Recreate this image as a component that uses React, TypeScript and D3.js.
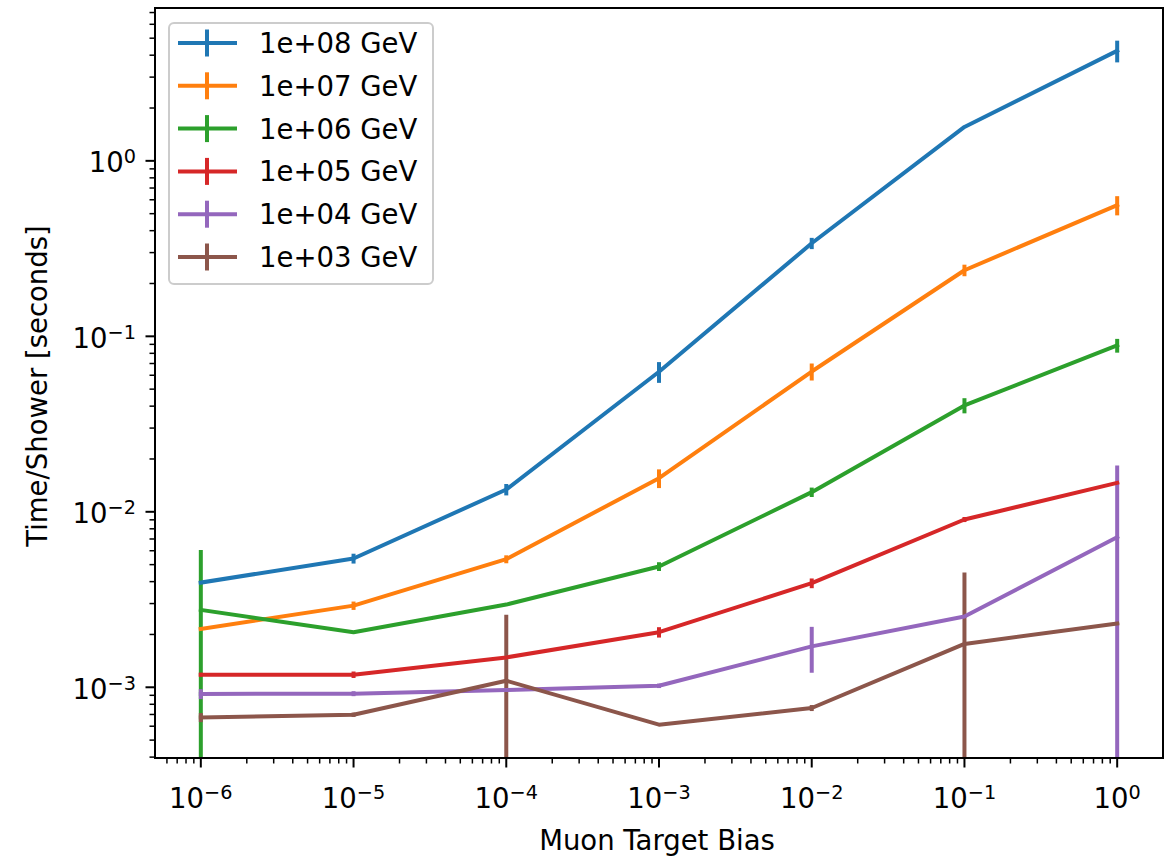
import React from "react";
import * as d3 from "d3";

const biases = [1e-6, 1e-5, 1e-4, 1e-3, 1e-2, 1e-1, 1e0];
const seriesLabels = ["1e+08 GeV", "1e+07 GeV", "1e+06 GeV", "1e+05 GeV", "1e+04 GeV", "1e+03 GeV"];
const seriesColors = ["#1f77b4", "#ff7f0e", "#2ca02c", "#d62728", "#9467bd", "#8c564b"];

const time1e8 = [0.00395, 0.00542, 0.0134, 0.0628, 0.339, 1.56, 4.24];
const time1e7 = [0.00215, 0.00292, 0.00537, 0.01555, 0.063, 0.238, 0.559];
const time1e6 = [0.00276, 0.00206, 0.00296, 0.00488, 0.01294, 0.0404, 0.0887];
const time1e5 = [0.00118, 0.00118, 0.00148, 0.00206, 0.00392, 0.00904, 0.01463];
const time1e4 = [0.000916, 0.00092, 0.000964, 0.00102, 0.00171, 0.00253, 0.00716];
const time1e3 = [0.000673, 0.000698, 0.00109, 0.000612, 0.000762, 0.001766, 0.00231];

const err1e8 = [0.0001, 0.00035, 0.001, 0.0085, 0.025, 0.02, 0.6];
const err1e7 = [0.00005, 0.00016, 0.00028, 0.0019, 0.007, 0.018, 0.07];
const err1e6 = [0.0033, 0.00003, 0.00004, 0.00028, 0.0008, 0.004, 0.008];
const err1e5 = [0.00003, 0.00005, 0.00002, 0.00014, 0.00025, 0.0003, 0.0001];
const err1e4 = [0.00006, 0.00003, 0.00001, 0.00003, 0.0005, 0.00005, 0.0112];
const err1e3 = [0.00004, 0.00002, 0.0015, 0.00001, 0.00003, 0.00275, 0.00003];

const seriesValues = [time1e8, time1e7, time1e6, time1e5, time1e4, time1e3];
const seriesErrors = [err1e8, err1e7, err1e6, err1e5, err1e4, err1e3];

const xMajorExps = [-6, -5, -4, -3, -2, -1, 0];
const yMajorExps = [-3, -2, -1, 0];
const xLabel = "Muon Target Bias";
const yLabel = "Time/Shower [seconds]";

const W = 1171;
const H = 857;
const L = 155, R = 1163, T = 8, B = 758;
const FS = 27.5;
const LW = 4;
const FONT = "'DejaVu Sans', sans-serif";

const x = d3.scaleLog().domain([Math.pow(10, -6.3), Math.pow(10, 0.3)]).range([L, R]);
const y = d3.scaleLog().domain([Math.pow(10, -3.403), Math.pow(10, 0.871)]).range([B, T]);

function minorTicks(scale: any, lo: number, hi: number) {
  const out: number[] = [];
  const [d0, d1] = scale.domain();
  for (let e = lo; e <= hi; e++) {
    for (let m = 2; m <= 9; m++) {
      const v = m * Math.pow(10, e);
      if (v >= d0 && v <= d1) out.push(v);
    }
  }
  return out;
}

function Pow10({ e }: { e: number }) {
  const s = e < 0 ? "\u2212" + Math.abs(e) : String(e);
  return (
    <>
      <tspan>10</tspan>
      <tspan dy={-9} fontSize={FS * 0.7}>{s}</tspan>
    </>
  );
}

export default function App() {
  const line = d3
    .line<number>()
    .x((_, i) => x(biases[i]))
    .y((v) => y(v));

  const xMinor = minorTicks(x, -7, 0);
  const yMinor = minorTicks(y, -4, 0);

  const legendX = 169, legendY = 23, legendW = 264, legendH = 261;
  const rowY0 = 43, rowDy = 42.8;

  return (
    <svg width={W} height={H} style={{ display: "block", position: "absolute", left: 0, top: 0 }} fontFamily={FONT}>
      <rect x={0} y={0} width={W} height={H} fill="#ffffff" />
      <defs>
        <clipPath id="plotClip">
          <rect x={L} y={T} width={R - L} height={B - T} />
        </clipPath>
      </defs>

      <g clipPath="url(#plotClip)">
        {seriesValues.map((vals, si) => (
          <g key={"e" + si} stroke={seriesColors[si]} strokeWidth={LW}>
            {vals.map((v, i) => {
              const e = seriesErrors[si][i];
              const lo = v - e > 0 ? y(v - e) : B + 10;
              const hi = y(v + e);
              return <line key={i} x1={x(biases[i])} x2={x(biases[i])} y1={lo} y2={hi} />;
            })}
          </g>
        ))}
        {seriesValues.map((vals, si) => (
          <path
            key={"l" + si}
            d={line(vals) || ""}
            fill="none"
            stroke={seriesColors[si]}
            strokeWidth={LW}
            strokeLinejoin="round"
            strokeLinecap="square"
          />
        ))}
      </g>

      {/* axes frame */}
      <rect x={L} y={T} width={R - L} height={B - T} fill="none" stroke="#000" strokeWidth={2} />

      {/* x ticks */}
      {xMajorExps.map((e) => {
        const px = x(Math.pow(10, e));
        return (
          <g key={"xt" + e}>
            <line x1={px} x2={px} y1={B} y2={B + 9.5} stroke="#000" strokeWidth={2} />
            <text x={px} y={B + 50} textAnchor="middle" fontSize={FS} fill="#000">
              <Pow10 e={e} />
            </text>
          </g>
        );
      })}
      {xMinor.map((v, i) => (
        <line key={"xm" + i} x1={x(v)} x2={x(v)} y1={B} y2={B + 5.5} stroke="#000" strokeWidth={1.5} />
      ))}

      {/* y ticks */}
      {yMajorExps.map((e) => {
        const py = y(Math.pow(10, e));
        return (
          <g key={"yt" + e}>
            <line x1={L} x2={L - 9.5} y1={py} y2={py} stroke="#000" strokeWidth={2} />
            <text x={136} y={py + 11.5} textAnchor="end" fontSize={FS} fill="#000">
              <Pow10 e={e} />
            </text>
          </g>
        );
      })}
      {yMinor.map((v, i) => (
        <line key={"ym" + i} x1={L} x2={L - 5.5} y1={y(v)} y2={y(v)} stroke="#000" strokeWidth={1.5} />
      ))}

      {/* axis labels */}
      <text x={657} y={850} textAnchor="middle" fontSize={FS} fill="#000">
        {xLabel}
      </text>
      <text
        x={47}
        y={386}
        textAnchor="middle"
        fontSize={FS}
        fill="#000"
        transform={`rotate(-90, 47, 386)`}
      >
        {yLabel}
      </text>

      {/* legend */}
      <rect
        x={legendX}
        y={legendY}
        width={legendW}
        height={legendH}
        rx={5}
        ry={5}
        fill="#ffffff"
        fillOpacity={0.8}
        stroke="#cccccc"
        strokeWidth={2}
      />
      {seriesLabels.map((lab, si) => {
        const ry = rowY0 + si * rowDy;
        return (
          <g key={"lg" + si}>
            <line x1={178} x2={237} y1={ry} y2={ry} stroke={seriesColors[si]} strokeWidth={LW} />
            <line x1={207} x2={207} y1={ry - 13.5} y2={ry + 13.5} stroke={seriesColors[si]} strokeWidth={LW} />
            <text x={259} y={ry + 10} fontSize={FS} fill="#000">
              {lab}
            </text>
          </g>
        );
      })}
    </svg>
  );
}
